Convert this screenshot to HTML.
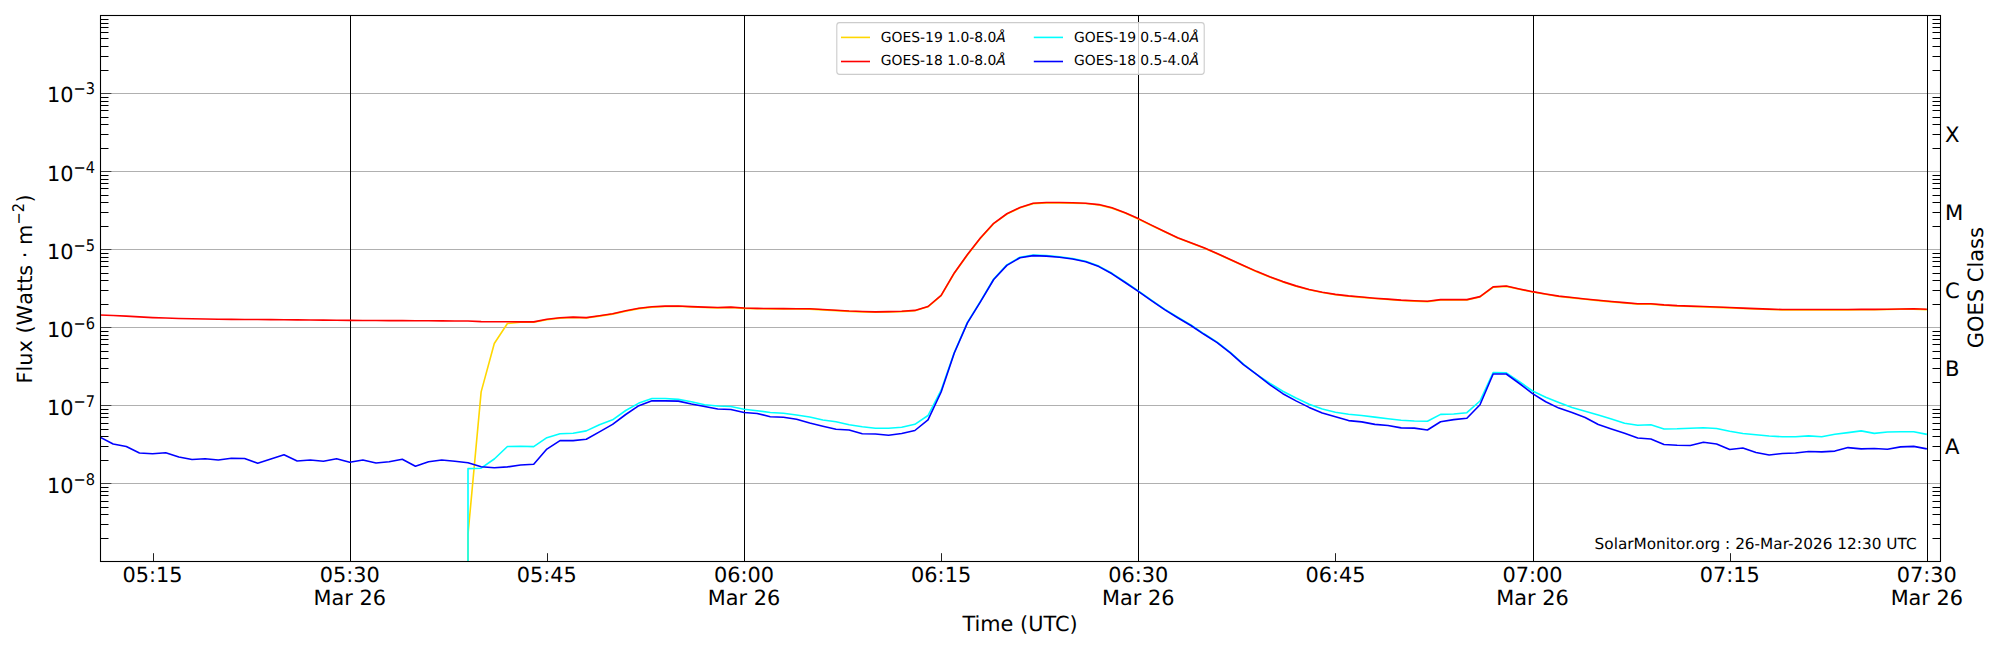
<!DOCTYPE html>
<html><head><meta charset="utf-8"><title>GOES X-ray Flux</title>
<style>html,body{margin:0;padding:0;background:#fff;width:2000px;height:650px;overflow:hidden}</style>
</head><body>
<svg width="2000" height="650" viewBox="0 0 2000 650" style="display:block" text-rendering="geometricPrecision">
<rect x="0" y="0" width="2000" height="650" fill="#ffffff"/>
<path d="M100,483.5H1940.5 M100,405.5H1940.5 M100,327.5H1940.5 M100,249.5H1940.5 M100,171.5H1940.5 M100,93.5H1940.5" stroke="#b0b0b0" stroke-width="1.1" fill="none"/>
<path d="M350.5,15.5V561.5 M744.5,15.5V561.5 M1138.5,15.5V561.5 M1533.5,15.5V561.5 M1927.5,15.5V561.5" stroke="#000" stroke-width="1" fill="none"/>
<g fill="none" stroke-width="1.6" stroke-linejoin="round" stroke-linecap="butt" clip-path="url(#ax)">
<defs><clipPath id="ax"><rect x="100" y="15" width="1840.5" height="546.5"/></clipPath></defs>
<polyline points="468.00,600 468.00,534.40 481.14,391.90 494.29,343.50 507.43,323.50 520.57,322.25 533.71,322.21 546.86,319.68 560.00,318.15 573.14,317.45 586.29,317.94 599.43,316.12 612.57,314.12 625.71,311.17 638.86,308.59 652.00,307.10 665.14,306.43 678.29,306.31 691.43,306.96 704.57,307.48 717.71,307.84 730.86,307.51 744.00,308.36 757.14,308.71 770.29,308.89 783.43,308.96 796.57,309.03 809.71,309.10 822.86,309.86 836.00,310.63 849.14,311.40 862.29,311.84 875.43,312.24 888.57,311.95 901.71,311.65 914.86,310.75 928.00,306.85 941.14,295.68 954.29,273.27 967.43,254.91 980.57,238.09 993.71,223.64 1006.86,214.08 1020.00,207.85 1033.14,203.65 1046.29,202.85 1059.43,202.85 1072.57,203.11 1085.71,203.53 1098.86,204.93 1112.00,208.15 1125.14,213.03 1138.29,218.95 1151.43,225.47 1164.57,231.77 1177.71,238.01 1190.86,243.04 1204.00,248.03 1217.14,253.76 1230.29,259.80 1243.43,265.79 1256.57,271.71 1269.71,277.04 1282.86,281.97 1296.00,286.22 1309.14,289.78 1322.29,292.56 1335.43,294.72 1348.57,296.23 1361.71,297.39 1374.86,298.53 1388.00,299.50 1401.14,300.47 1414.29,301.10 1427.43,301.60 1440.57,299.95 1453.71,299.95 1466.86,299.95 1480.00,296.95 1493.14,287.25 1506.29,286.35 1519.43,289.32 1532.57,292.01 1545.71,294.32 1558.86,296.49 1572.00,297.90 1585.14,299.30 1598.29,300.65 1611.43,301.83 1624.57,302.99 1637.71,304.10 1650.86,304.10 1664.00,305.22 1677.14,305.99 1690.29,306.44 1703.43,306.89 1716.57,307.33 1729.71,307.89 1742.86,308.48 1756.00,308.98 1769.14,309.48 1782.29,309.85 1795.43,309.85 1808.57,309.85 1821.71,309.85 1834.86,309.85 1848.00,309.85 1861.14,309.77 1874.29,309.70 1887.43,309.55 1900.57,309.29 1913.71,309.11 1926.86,309.65" stroke="#ffd700"/>
<polyline points="100.00,315.00 113.14,315.53 126.29,316.08 139.43,316.87 152.57,317.59 165.71,318.02 178.86,318.46 192.00,318.72 205.14,318.95 218.29,319.19 231.43,319.41 244.57,319.49 257.71,319.57 270.86,319.65 284.00,319.73 297.14,319.85 310.29,319.99 323.43,320.13 336.57,320.26 349.71,320.40 362.86,320.47 376.00,320.53 389.14,320.60 402.29,320.67 415.43,320.73 428.57,320.80 441.71,320.87 454.86,320.94 468.00,321.02 481.14,321.60 494.29,321.70 507.43,321.80 520.57,321.90 533.71,321.86 546.86,319.33 560.00,317.80 573.14,317.10 586.29,317.59 599.43,315.77 612.57,313.77 625.71,310.82 638.86,308.24 652.00,306.75 665.14,306.08 678.29,305.96 691.43,306.61 704.57,307.13 717.71,307.49 730.86,307.16 744.00,308.01 757.14,308.36 770.29,308.54 783.43,308.61 796.57,308.68 809.71,308.75 822.86,309.51 836.00,310.28 849.14,311.05 862.29,311.49 875.43,311.89 888.57,311.60 901.71,311.30 914.86,310.40 928.00,306.50 941.14,295.33 954.29,272.92 967.43,254.56 980.57,237.74 993.71,223.29 1006.86,213.73 1020.00,207.50 1033.14,203.30 1046.29,202.50 1059.43,202.50 1072.57,202.76 1085.71,203.18 1098.86,204.58 1112.00,207.80 1125.14,212.68 1138.29,218.60 1151.43,225.12 1164.57,231.42 1177.71,237.66 1190.86,242.69 1204.00,247.68 1217.14,253.41 1230.29,259.45 1243.43,265.44 1256.57,271.36 1269.71,276.69 1282.86,281.62 1296.00,285.87 1309.14,289.43 1322.29,292.21 1335.43,294.37 1348.57,295.88 1361.71,297.04 1374.86,298.18 1388.00,299.15 1401.14,300.12 1414.29,300.75 1427.43,301.25 1440.57,299.60 1453.71,299.60 1466.86,299.60 1480.00,296.60 1493.14,286.90 1506.29,286.00 1519.43,288.97 1532.57,291.66 1545.71,293.97 1558.86,296.14 1572.00,297.55 1585.14,298.95 1598.29,300.30 1611.43,301.48 1624.57,302.64 1637.71,303.75 1650.86,303.75 1664.00,304.87 1677.14,305.64 1690.29,306.09 1703.43,306.54 1716.57,306.98 1729.71,307.54 1742.86,308.13 1756.00,308.63 1769.14,309.13 1782.29,309.50 1795.43,309.50 1808.57,309.50 1821.71,309.50 1834.86,309.50 1848.00,309.50 1861.14,309.42 1874.29,309.35 1887.43,309.20 1900.57,308.94 1913.71,308.76 1926.86,309.30" stroke="#ff0000"/>
<polyline points="468.00,600 468.00,468.60 481.14,468.20 494.29,459.00 507.43,446.50 520.57,446.20 533.71,446.60 546.86,437.70 560.00,433.80 573.14,433.20 586.29,430.90 599.43,424.70 612.57,419.80 625.71,410.50 638.86,403.10 652.00,398.50 665.14,398.50 678.29,399.40 691.43,401.80 704.57,404.80 717.71,406.00 730.86,406.50 744.00,409.20 757.14,410.70 770.29,412.50 783.43,413.20 796.57,415.00 809.71,417.00 822.86,420.00 836.00,421.80 849.14,424.80 862.29,426.80 875.43,428.20 888.57,428.20 901.71,427.30 914.86,424.30 928.00,415.50 941.14,390.20 954.29,352.50 967.43,322.40 980.57,301.10 993.71,279.00 1006.86,264.90 1020.00,257.20 1033.14,255.10 1046.29,255.60 1059.43,256.70 1072.57,258.50 1085.71,261.30 1098.86,266.10 1112.00,273.30 1125.14,282.00 1138.29,290.80 1151.43,300.10 1164.57,309.10 1177.71,317.20 1190.86,325.00 1204.00,333.80 1217.14,342.10 1230.29,352.40 1243.43,364.20 1256.57,374.30 1269.71,383.20 1282.86,391.20 1296.00,398.00 1309.14,404.20 1322.29,409.00 1335.43,412.20 1348.57,414.20 1361.71,415.50 1374.86,417.10 1388.00,418.70 1401.14,420.20 1414.29,421.00 1427.43,421.20 1440.57,414.40 1453.71,414.00 1466.86,412.70 1480.00,401.00 1493.14,372.50 1506.29,372.80 1519.43,381.70 1532.57,391.00 1545.71,397.30 1558.86,402.50 1572.00,407.50 1585.14,411.20 1598.29,415.00 1611.43,419.00 1624.57,423.30 1637.71,425.30 1650.86,424.70 1664.00,429.00 1677.14,428.80 1690.29,428.20 1703.43,427.80 1716.57,428.50 1729.71,431.20 1742.86,433.50 1756.00,434.80 1769.14,436.00 1782.29,436.80 1795.43,436.70 1808.57,435.90 1821.71,436.70 1834.86,434.30 1848.00,432.60 1861.14,430.90 1874.29,433.40 1887.43,432.00 1900.57,431.80 1913.71,431.80 1926.86,434.40" stroke="#00ffff"/>
<polyline points="100.00,437.20 113.14,444.00 126.29,446.50 139.43,453.00 152.57,453.70 165.71,452.70 178.86,457.00 192.00,459.50 205.14,458.80 218.29,460.00 231.43,458.20 244.57,458.50 257.71,463.20 270.86,459.00 284.00,454.80 297.14,461.00 310.29,460.00 323.43,461.20 336.57,458.70 349.71,462.20 362.86,460.00 376.00,463.00 389.14,461.80 402.29,459.30 415.43,466.20 428.57,461.70 441.71,460.00 454.86,461.20 468.00,462.70 481.14,466.80 494.29,467.70 507.43,466.90 520.57,465.00 533.71,464.30 546.86,449.10 560.00,440.60 573.14,440.60 586.29,439.30 599.43,431.90 612.57,424.40 625.71,414.50 638.86,405.70 652.00,400.70 665.14,400.90 678.29,401.10 691.43,404.00 704.57,406.50 717.71,409.00 730.86,409.50 744.00,412.50 757.14,413.50 770.29,416.70 783.43,417.30 796.57,419.20 809.71,423.00 822.86,426.20 836.00,429.30 849.14,430.00 862.29,433.70 875.43,434.00 888.57,435.30 901.71,433.50 914.86,430.50 928.00,419.90 941.14,392.00 954.29,353.00 967.43,322.90 980.57,301.60 993.71,279.50 1006.86,265.40 1020.00,257.70 1033.14,255.60 1046.29,256.10 1059.43,257.20 1072.57,259.00 1085.71,261.80 1098.86,266.60 1112.00,273.80 1125.14,282.50 1138.29,291.30 1151.43,300.60 1164.57,309.60 1177.71,317.70 1190.86,325.50 1204.00,334.30 1217.14,342.60 1230.29,352.90 1243.43,364.70 1256.57,374.40 1269.71,384.60 1282.86,393.70 1296.00,400.90 1309.14,407.40 1322.29,413.00 1335.43,416.80 1348.57,420.60 1361.71,421.90 1374.86,424.40 1388.00,425.50 1401.14,427.90 1414.29,428.10 1427.43,430.00 1440.57,421.80 1453.71,419.60 1466.86,418.30 1480.00,404.80 1493.14,374.00 1506.29,374.00 1519.43,383.50 1532.57,393.60 1545.71,401.70 1558.86,408.10 1572.00,412.50 1585.14,417.50 1598.29,424.50 1611.43,429.00 1624.57,433.20 1637.71,438.00 1650.86,439.00 1664.00,444.50 1677.14,445.20 1690.29,445.50 1703.43,442.30 1716.57,444.00 1729.71,449.50 1742.86,448.00 1756.00,452.50 1769.14,455.00 1782.29,453.50 1795.43,453.00 1808.57,451.50 1821.71,451.90 1834.86,451.10 1848.00,447.60 1861.14,448.90 1874.29,448.50 1887.43,449.30 1900.57,446.90 1913.71,446.40 1926.86,448.90" stroke="#0000ff"/>
</g>
<path d="M100.5,538.5H108.5 M1940.5,538.5H1932.5 M100.5,524.5H108.5 M1940.5,524.5H1932.5 M100.5,514.5H108.5 M1940.5,514.5H1932.5 M100.5,507.5H108.5 M1940.5,507.5H1932.5 M100.5,501.5H108.5 M1940.5,501.5H1932.5 M100.5,495.5H108.5 M1940.5,495.5H1932.5 M100.5,491.5H108.5 M1940.5,491.5H1932.5 M100.5,487.5H108.5 M1940.5,487.5H1932.5 M100.5,460.5H108.5 M1940.5,460.5H1932.5 M100.5,446.5H108.5 M1940.5,446.5H1932.5 M100.5,436.5H108.5 M1940.5,436.5H1932.5 M100.5,429.5H108.5 M1940.5,429.5H1932.5 M100.5,423.5H108.5 M1940.5,423.5H1932.5 M100.5,417.5H108.5 M1940.5,417.5H1932.5 M100.5,413.5H108.5 M1940.5,413.5H1932.5 M100.5,409.5H108.5 M1940.5,409.5H1932.5 M100.5,382.5H108.5 M1940.5,382.5H1932.5 M100.5,368.5H108.5 M1940.5,368.5H1932.5 M100.5,358.5H108.5 M1940.5,358.5H1932.5 M100.5,351.5H108.5 M1940.5,351.5H1932.5 M100.5,344.5H108.5 M1940.5,344.5H1932.5 M100.5,339.5H108.5 M1940.5,339.5H1932.5 M100.5,335.5H108.5 M1940.5,335.5H1932.5 M100.5,331.5H108.5 M1940.5,331.5H1932.5 M100.5,304.5H108.5 M1940.5,304.5H1932.5 M100.5,290.5H108.5 M1940.5,290.5H1932.5 M100.5,280.5H108.5 M1940.5,280.5H1932.5 M100.5,273.5H108.5 M1940.5,273.5H1932.5 M100.5,266.5H108.5 M1940.5,266.5H1932.5 M100.5,261.5H108.5 M1940.5,261.5H1932.5 M100.5,257.5H108.5 M1940.5,257.5H1932.5 M100.5,253.5H108.5 M1940.5,253.5H1932.5 M100.5,226.5H108.5 M1940.5,226.5H1932.5 M100.5,212.5H108.5 M1940.5,212.5H1932.5 M100.5,202.5H108.5 M1940.5,202.5H1932.5 M100.5,195.5H108.5 M1940.5,195.5H1932.5 M100.5,188.5H108.5 M1940.5,188.5H1932.5 M100.5,183.5H108.5 M1940.5,183.5H1932.5 M100.5,179.5H108.5 M1940.5,179.5H1932.5 M100.5,175.5H108.5 M1940.5,175.5H1932.5 M100.5,148.5H108.5 M1940.5,148.5H1932.5 M100.5,134.5H108.5 M1940.5,134.5H1932.5 M100.5,124.5H108.5 M1940.5,124.5H1932.5 M100.5,117.5H108.5 M1940.5,117.5H1932.5 M100.5,110.5H108.5 M1940.5,110.5H1932.5 M100.5,105.5H108.5 M1940.5,105.5H1932.5 M100.5,101.5H108.5 M1940.5,101.5H1932.5 M100.5,97.5H108.5 M1940.5,97.5H1932.5 M100.5,70.5H108.5 M1940.5,70.5H1932.5 M100.5,56.5H108.5 M1940.5,56.5H1932.5 M100.5,46.5H108.5 M1940.5,46.5H1932.5 M100.5,38.5H108.5 M1940.5,38.5H1932.5 M100.5,32.5H108.5 M1940.5,32.5H1932.5 M100.5,27.5H108.5 M1940.5,27.5H1932.5 M100.5,23.5H108.5 M1940.5,23.5H1932.5 M100.5,19.5H108.5 M1940.5,19.5H1932.5" stroke="#000" stroke-width="1.1" fill="none"/>
<path d="M100.5,561.5H111.4 M100.5,483.5H111.4 M100.5,405.5H111.4 M100.5,327.5H111.4 M100.5,249.5H111.4 M100.5,171.5H111.4 M100.5,93.5H111.4 M100.5,15.5H111.4" stroke="#404040" stroke-width="1" fill="none"/>
<path d="M153.5,561.5V553.2 M547.5,561.5V553.2 M941.5,561.5V553.2 M1335.5,561.5V553.2 M1730.5,561.5V553.2" stroke="#222" stroke-width="1" fill="none"/>
<rect x="100.5" y="15.5" width="1840" height="546" fill="none" stroke="#000" stroke-width="1.1"/>
<g font-family="'DejaVu Sans', 'Liberation Sans', sans-serif" fill="#000">
<text x="47.0" y="492.60" font-size="20.8333">10</text>
<text transform="translate(73.51,484.60) scale(1,1.1)" font-size="14.583">−8</text>
<text x="47.0" y="414.60" font-size="20.8333">10</text>
<text transform="translate(73.51,406.60) scale(1,1.1)" font-size="14.583">−7</text>
<text x="47.0" y="336.60" font-size="20.8333">10</text>
<text transform="translate(73.51,328.60) scale(1,1.1)" font-size="14.583">−6</text>
<text x="47.0" y="258.60" font-size="20.8333">10</text>
<text transform="translate(73.51,250.60) scale(1,1.1)" font-size="14.583">−5</text>
<text x="47.0" y="180.60" font-size="20.8333">10</text>
<text transform="translate(73.51,172.60) scale(1,1.1)" font-size="14.583">−4</text>
<text x="47.0" y="101.60" font-size="20.8333">10</text>
<text transform="translate(73.51,93.60) scale(1,1.1)" font-size="14.583">−3</text>
<text x="152.57" y="581.8" font-size="20.8333" text-anchor="middle">05:15</text>
<text x="349.71" y="581.8" font-size="20.8333" text-anchor="middle">05:30</text>
<text x="349.71" y="605.0" font-size="20.8333" text-anchor="middle">Mar 26</text>
<text x="546.86" y="581.8" font-size="20.8333" text-anchor="middle">05:45</text>
<text x="744.00" y="581.8" font-size="20.8333" text-anchor="middle">06:00</text>
<text x="744.00" y="605.0" font-size="20.8333" text-anchor="middle">Mar 26</text>
<text x="941.14" y="581.8" font-size="20.8333" text-anchor="middle">06:15</text>
<text x="1138.29" y="581.8" font-size="20.8333" text-anchor="middle">06:30</text>
<text x="1138.29" y="605.0" font-size="20.8333" text-anchor="middle">Mar 26</text>
<text x="1335.43" y="581.8" font-size="20.8333" text-anchor="middle">06:45</text>
<text x="1532.57" y="581.8" font-size="20.8333" text-anchor="middle">07:00</text>
<text x="1532.57" y="605.0" font-size="20.8333" text-anchor="middle">Mar 26</text>
<text x="1729.71" y="581.8" font-size="20.8333" text-anchor="middle">07:15</text>
<text x="1926.86" y="581.8" font-size="20.8333" text-anchor="middle">07:30</text>
<text x="1926.86" y="605.0" font-size="20.8333" text-anchor="middle">Mar 26</text>
<text x="1020.0" y="630.9" font-size="20.8333" text-anchor="middle">Time (UTC)</text>
<g transform="translate(32.0,383.44) rotate(-90)">
<text x="0.00 11.98 17.77 30.98 43.30 49.93 58.05 78.65 91.42 99.59 107.76 118.61 125.23 131.86 138.48" y="0" font-size="20.8333">Flux (Watts ⋅ m</text>
<text x="181.04" y="0" font-size="20.8333">)</text>
<g transform="translate(0,-7.97) scale(1,1.1)"><text x="158.97 171.19" y="0" font-size="14.583">−2</text></g>
</g>
<text transform="translate(1983.0,287.7) rotate(-90)" font-size="21.0" text-anchor="middle">GOES Class</text>
<text x="1945.0" y="453.85" font-size="21.2">A</text>
<text x="1945.0" y="375.80" font-size="21.2">B</text>
<text x="1945.0" y="297.75" font-size="21.2">C</text>
<text x="1945.0" y="219.70" font-size="21.2">M</text>
<text x="1945.0" y="141.65" font-size="21.2">X</text>
<text x="1916.6" y="548.5" font-size="15.31" text-anchor="end">SolarMonitor.org : 26-Mar-2026 12:30 UTC</text>
</g>
<rect x="836.8" y="22.6" width="367.4" height="51.8" rx="2.8" ry="2.8" fill="#ffffff" fill-opacity="0.8" stroke="#cccccc" stroke-width="1.1"/>
<g stroke-width="1.6" fill="none">
<path d="M841,37.4H870" stroke="#ffd700"/><path d="M841,61.5H870" stroke="#ff0000"/>
<path d="M1033.8,37.4H1063" stroke="#00ffff"/><path d="M1033.8,61.5H1063" stroke="#0000ff"/>
</g>
<g font-family="'DejaVu Sans', 'Liberation Sans', sans-serif" font-size="13.8889" fill="#000">
<text x="880.85" y="41.8">GOES-19 1.0-8.0<tspan font-style="italic">Å</tspan></text>
<text x="880.85" y="64.9">GOES-18 1.0-8.0<tspan font-style="italic">Å</tspan></text>
<text x="1074.05" y="41.8">GOES-19 0.5-4.0<tspan font-style="italic">Å</tspan></text>
<text x="1074.05" y="64.9">GOES-18 0.5-4.0<tspan font-style="italic">Å</tspan></text>
</g>
</svg>
</body></html>
